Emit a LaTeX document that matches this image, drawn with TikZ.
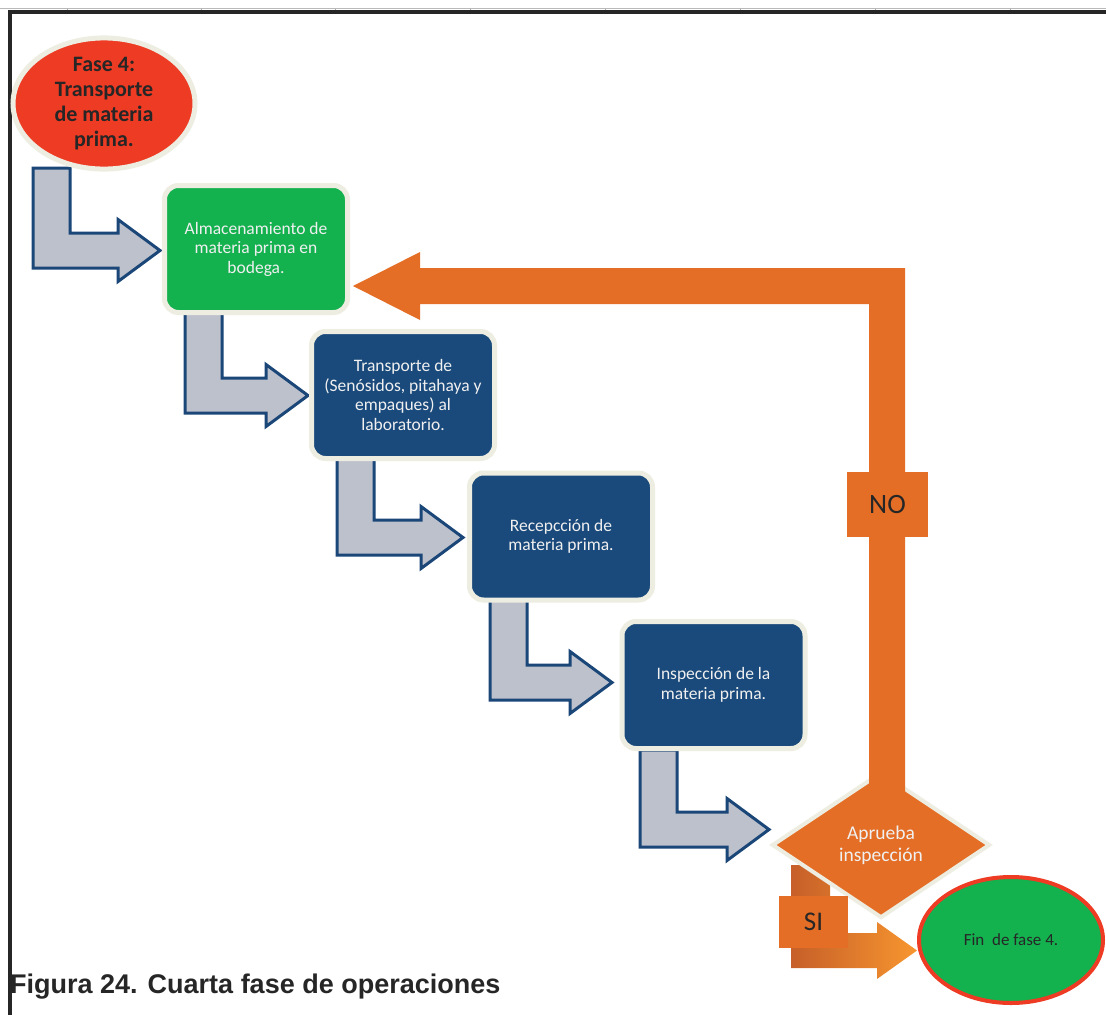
\documentclass[tikz,border=0pt]{standalone}
\usepackage{fontspec}
\setmainfont{Carlito}
\newfontfamily\capfont{Liberation Sans}
\usetikzlibrary{shapes.geometric}

\definecolor{fasered}{HTML}{EE3B24}
\definecolor{rim}{HTML}{EDEDE1}
\definecolor{stepgreen}{HTML}{14B14F}
\definecolor{stepblue}{HTML}{1A4A7B}
\definecolor{arrowfill}{HTML}{BDC1CC}
\definecolor{arrowline}{HTML}{1B4678}
\definecolor{flow}{HTML}{E46E26}
\definecolor{flowdark}{HTML}{C65F29}
\definecolor{flowlight}{HTML}{F7962F}
\definecolor{ink}{HTML}{262626}
\definecolor{frameline}{HTML}{262626}

% L-shaped block arrow: left x, top y, bottom y, tip x
\newcommand\bentarrow[4]{%
  \pgfmathsetmacro\bxr{#1+37}%
  \pgfmathsetmacro\binn{#3-35}%
  \pgfmathsetmacro\bmid{#3-17.5}%
  \pgfmathsetmacro\bhb{#4-42}%
  \pgfmathsetmacro\bht{\bmid-31}%
  \pgfmathsetmacro\bhbot{\bmid+31}%
  \draw[grayarrow] (#1,#2) -- (\bxr,#2) -- (\bxr,\binn) -- (\bhb,\binn)
    -- (\bhb,\bht) -- (#4,\bmid) -- (\bhb,\bhbot) -- (\bhb,#3) -- (#1,#3) -- cycle;}

\tikzset{
  grayarrow/.style={fill=arrowfill, draw=arrowline, line width=3pt, line join=miter},
  stepbox/.style={rectangle, rounded corners=14pt, draw=rim, line width=5pt,
    minimum width=183pt, minimum height=127pt, inner sep=0pt, align=center,
    text=white!94!black, font=\fontsize{17.5}{19.5}\selectfont},
  startell/.style={ellipse, fill=fasered, draw=rim, line width=5pt,
    minimum width=182pt, minimum height=128pt, inner sep=0pt, align=center,
    text=ink, font=\bfseries\fontsize{22}{25}\selectfont},
  decision/.style={diamond, fill=flow, draw=rim, line width=4pt,
    minimum width=218pt, minimum height=146pt, inner sep=0pt, align=center,
    text=white!94!black, font=\fontsize{19.5}{21.7}\selectfont},
  endell/.style={ellipse, fill=stepgreen, draw=fasered, line width=4pt,
    minimum width=184pt, minimum height=126pt, inner sep=0pt,
    text=ink, font=\fontsize{17}{20}\selectfont},
  tagbox/.style={rectangle, fill=flow, inner sep=0pt, text=ink,
    font=\fontsize{28}{30}\selectfont}
}

\begin{document}
\begin{tikzpicture}[x=1pt, y=-1pt]
\useasboundingbox (0,0) rectangle (1106,1015);
\fill[white] (0,0) rectangle (1106,1015);

% page frame
\draw[gray!55, line width=0.8pt] (0,8.7) -- (1106,8.7);
\foreach \tx in {67,201,335,470,605,740,875,1010}
  \draw[gray!70, line width=0.6pt] (\tx,8.5) -- (\tx,11);
\draw[frameline, line width=4pt] (10,1015) -- (10,12) -- (1106,12);

% block arrows between the steps
\bentarrow{33}{168}{268}{160}
\bentarrow{185}{310}{413}{308}
\bentarrow{337}{458}{555}{463}
\bentarrow{490}{600}{700}{612}
\bentarrow{640}{750}{847}{769}

% steps
\node[startell] (start) at (104,103.5) {Fase 4:\\Transporte\\de materia\\prima.};
\node[stepbox, fill=stepgreen] (b1) at (256,249) {Almacenamiento de\\materia prima en\\bodega.};
\node[stepbox, fill=stepblue] (b2) at (403,395) {Transporte de\\(Senósidos, pitahaya y\\empaques) al\\laboratorio.};
\node[stepbox, fill=stepblue] (b3) at (561,536.5) {Recepcción de\\materia prima.};
\node[stepbox, fill=stepblue] (b4) at (713.5,685) {Inspección de la\\materia prima.};

% "SI" branch arrow
\shade[left color=flowdark, right color=flowlight]
  (791,865) -- (830,865) -- (830,933) -- (877,933) -- (877,922) -- (917,950.5)
  -- (877,979) -- (877,968) -- (791,968) -- cycle;

\node[decision] (dec) at (881,845) {Aprueba\\inspección};
\node[tagbox, minimum width=69pt, minimum height=52pt, font=\fontsize{27}{29}\selectfont] (si) at (813.5,922) {SI};
\node[endell] (fin) at (1011,940) {Fin\ \ de fase 4.};

% "NO" return path
\fill[flow] (869,792) -- (869,304) -- (420,304) -- (420,320) -- (353,286)
  -- (420,252) -- (420,268) -- (905,268) -- (905,792) -- cycle;
\node[tagbox, minimum width=81pt, minimum height=65pt] (no) at (887.5,504.5) {NO};

% caption
\node[anchor=base west, inner sep=0pt, text=ink, font=\capfont\bfseries\fontsize{27}{30}\selectfont]
  (cap) at (10,993) {Figura 24. Cuarta fase de operaciones};
\end{tikzpicture}
\end{document}
